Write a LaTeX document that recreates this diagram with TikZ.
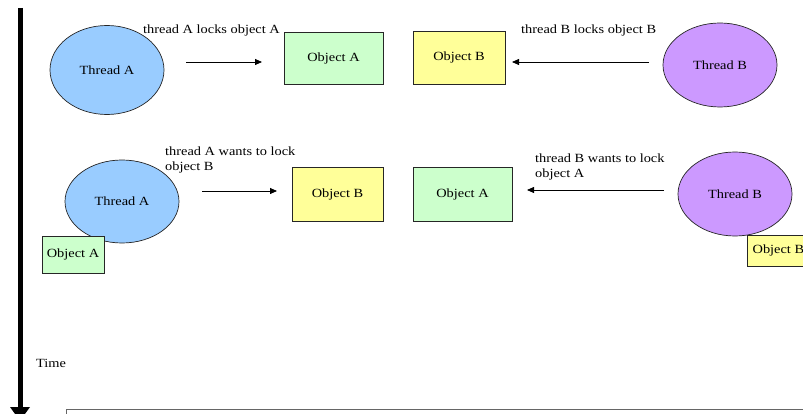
\documentclass[tikz,border=0pt]{standalone}
\usepackage{fontspec}
\setmainfont[FakeStretch=1.15]{Liberation Serif}
\usetikzlibrary{arrows.meta, positioning, shapes.geometric}

\definecolor{threadblue}{HTML}{99CCFF}
\definecolor{threadpurple}{HTML}{CC99FF}
\definecolor{objgreen}{HTML}{CCFFCC}
\definecolor{objyellow}{HTML}{FFFF99}

\begin{document}
\begin{tikzpicture}[x=1pt, y=-1pt, font=\fontsize{12.5}{15}\selectfont,
    thread/.style={draw=black!85, line width=0.7pt, ellipse, inner sep=0pt,
        minimum width=114pt, minimum height=86pt},
    objbox/.style={draw=black!85, line width=0.8pt, rectangle, inner sep=0pt},
    lockarrow/.style={line width=0.8pt, -{Triangle[length=7pt, width=6pt]}},
    caption/.style={inner sep=0pt, align=left}]
    \useasboundingbox (0,0) rectangle (803,414);
    \clip (0,0) rectangle (803,414);

    % Time axis
    \coordinate (tstart) at (20,8);
    \coordinate (tend) at (20,421);
    \draw[line width=5pt, -{Triangle[width=19pt, length=14pt]}] (tstart) -- (tend);
    \node[caption, anchor=west] (time) at (36,363) {Time};

    % Step 1: each thread locks its own object
    \node[thread, fill=threadblue, minimum height=89pt] (thA1) at (107,70) {Thread A};
    \node[objbox, fill=objgreen, minimum width=99pt, minimum height=52pt] (objA1) at (333.5,58) {Object A};
    \node[objbox, fill=objyellow, minimum width=92pt, minimum height=53pt] (objB1) at (459,57.5) {Object B};
    \node[thread, fill=threadpurple, minimum height=84pt] (thB1) at (720,65) {Thread B};

    \node[caption, anchor=west] (lockA) at (143,30) {thread A locks object A};
    \node[caption, anchor=west] (lockB) at (521,30) {thread B locks object B};

    \coordinate (a1s) at (186,62);
    \coordinate (a1e) at (262,62);
    \coordinate (b1s) at (649,62);
    \coordinate (b1e) at (512,62);
    \draw[lockarrow] (a1s) -- (a1e);
    \draw[lockarrow] (b1s) -- (b1e);

    % Step 2: each thread wants the other object
    \node[thread, fill=threadblue, minimum height=83pt] (thA2) at (122,201.5) {Thread A};
    \node[objbox, fill=objgreen, minimum width=62pt, minimum height=37pt] (heldA) at (73,254.5) {Object A};
    \node[objbox, fill=objyellow, minimum width=91pt, minimum height=54pt] (objB2) at (337.5,194) {Object B};
    \node[objbox, fill=objgreen, minimum width=99pt, minimum height=54pt] (objA2) at (462.5,194) {Object A};
    \node[thread, fill=threadpurple, minimum height=84pt] (thB2) at (735,194) {Thread B};
    \node[objbox, fill=objyellow, minimum width=62pt, minimum height=31pt, anchor=west] (heldB) at (747,250.5) {Object B};

    \node[caption, anchor=west] (wantA) at (165,159.5) {thread A wants to lock\\object B};
    \node[caption, anchor=west] (wantB) at (535,167) {thread B wants to lock\\object A};

    \coordinate (a2s) at (202,191);
    \coordinate (a2e) at (277,191);
    \coordinate (b2s) at (664,190);
    \coordinate (b2e) at (527,190);
    \draw[lockarrow] (a2s) -- (a2e);
    \draw[lockarrow] (b2s) -- (b2e);

    % frame below the axis
    \draw[black!60, line width=0.8pt] (66,409) rectangle (830,440);
\end{tikzpicture}
\end{document}
